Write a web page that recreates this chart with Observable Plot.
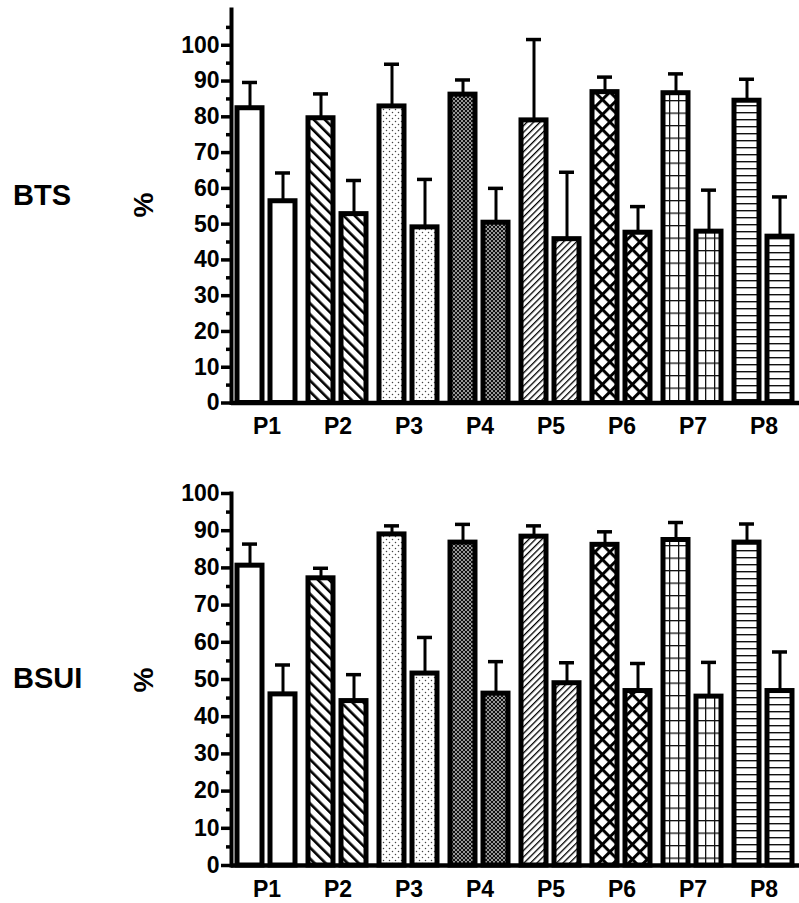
<!DOCTYPE html>
<html><head><meta charset="utf-8">
<script src="https://cdn.jsdelivr.net/npm/d3@7"></script>
<script src="https://cdn.jsdelivr.net/npm/@observablehq/plot@0.6"></script>
<style>
body{margin:0;background:#fff;}
#wrap{position:relative;width:799px;height:903px;overflow:hidden;font-family:"Liberation Sans",Arial,sans-serif;font-weight:bold;color:#000;}
.panel{position:absolute;left:0;}
.lab{position:absolute;font-size:29px;line-height:29px;white-space:nowrap;}
.pct{position:absolute;font-size:28px;line-height:28px;transform:translate(-50%,-50%) rotate(-90deg);white-space:nowrap;}
</style></head><body>
<svg width="0" height="0" style="position:absolute">
<defs>
<pattern id="p2" patternUnits="userSpaceOnUse" width="7.8" height="7.8" patternTransform="rotate(-45)"><rect width="7.8" height="7.8" fill="#fff"/><rect x="0" y="0" width="2.6" height="7.8" fill="#000"/></pattern>
<pattern id="p3" patternUnits="userSpaceOnUse" width="6" height="6"><rect width="6" height="6" fill="#fff"/><circle cx="1.5" cy="1.5" r="0.75" fill="#444"/><circle cx="4.5" cy="4.5" r="0.75" fill="#444"/></pattern>
<pattern id="p4" patternUnits="userSpaceOnUse" width="4" height="4"><rect width="4" height="4" fill="#111"/><rect x="0.25" y="0.25" width="1.5" height="1.5" fill="#fff"/><rect x="2.25" y="2.25" width="1.5" height="1.5" fill="#fff"/></pattern>
<pattern id="p5" patternUnits="userSpaceOnUse" width="4.6" height="4.6" patternTransform="rotate(45)"><rect width="4.6" height="4.6" fill="#fff"/><rect x="0" y="0" width="1.3" height="4.6" fill="#000"/></pattern>
<pattern id="p6" patternUnits="userSpaceOnUse" width="10.6" height="10.6" patternTransform="rotate(45)"><rect width="10.6" height="10.6" fill="#fff"/><rect x="0" y="0" width="3" height="10.6" fill="#000"/><rect x="0" y="0" width="10.6" height="3" fill="#000"/></pattern>
<pattern id="p7" patternUnits="userSpaceOnUse" width="9" height="12.5"><rect width="9" height="12.5" fill="#fff"/><rect x="0" y="0" width="1.3" height="12.5" fill="#111"/><rect x="0" y="0" width="9" height="1.3" fill="#111"/></pattern>
<pattern id="p8" patternUnits="userSpaceOnUse" width="7" height="7"><rect width="7" height="7" fill="#fff"/><rect x="0" y="0" width="7" height="1.4" fill="#111"/></pattern>
</defs>
</svg>
<div id="wrap"></div>
<script>
// ---- data ----
const groups = ["P1", "P2", "P3", "P4", "P5", "P6", "P7", "P8"];
const series = ["a", "b"];

const btsMeanA  = [82.4, 79.6, 82.9, 86.2, 79.0, 86.9, 86.6, 84.5];
const btsUpperA = [89.6, 86.4, 94.7, 90.3, 101.6, 91.1, 92.0, 90.5];
const btsMeanB  = [56.4, 52.8, 49.1, 50.4, 45.8, 47.6, 47.9, 46.5];
const btsUpperB = [64.3, 62.2, 62.5, 60.0, 64.5, 54.9, 59.5, 57.6];

const bsuiMeanA  = [80.6, 77.2, 89.0, 86.8, 88.4, 86.2, 87.5, 86.8];
const bsuiUpperA = [86.4, 79.9, 91.3, 91.7, 91.3, 89.7, 92.2, 91.8];
const bsuiMeanB  = [46.0, 44.2, 51.6, 46.2, 49.0, 46.9, 45.4, 46.9];
const bsuiUpperB = [53.9, 51.3, 61.3, 54.8, 54.5, 54.3, 54.6, 57.4];

const btsMajorTicks = [0, 10, 20, 30, 40, 50, 60, 70, 80, 90, 100];
const btsMinorTicks = [5, 15, 25, 35, 45, 55, 65, 75, 85, 95, 105];
const bsuiMajorTicks = [0, 10, 20, 30, 40, 50, 60, 70, 80, 90, 100];
const bsuiMinorTicks = [5, 15, 25, 35, 45, 55, 65, 75, 85, 95];

// ---- styles ----
const patternOf = {P1: "#fff", P2: "url(#p2)", P3: "url(#p3)", P4: "url(#p4)",
                   P5: "url(#p5)", P6: "url(#p6)", P7: "url(#p7)", P8: "url(#p8)"};

function rowsOf(meanA, upperA, meanB, upperB) {
  return groups.flatMap((g, i) => [
    {group: g, series: "a", mean: meanA[i], upper: upperA[i]},
    {group: g, series: "b", mean: meanB[i], upper: upperB[i]}
  ]);
}

function panel(rows, yMax, major, minor, height, marginTop, marginBottom) {
  return Plot.plot({
    width: 799, height, marginLeft: 231, marginRight: 0, marginTop, marginBottom,
    style: {fontFamily: "Liberation Sans, Arial, sans-serif", fontWeight: "bold", fontSize: "23px", color: "#000", background: "transparent", overflow: "visible"},
    fx: {domain: groups, padding: 0, label: null},
    x: {domain: series, paddingInner: 0.232, paddingOuter: 0.186, axis: null},
    y: {domain: [0, yMax]},
    color: {type: "identity"},
    marks: [
      Plot.ruleX(rows, {fx: "group", x: "series", y1: "mean", y2: "upper", stroke: "#000", strokeWidth: 3}),
      Plot.tickY(rows, {fx: "group", x: "series", y: "upper", stroke: "#000", strokeWidth: 3.5, insetLeft: 5, insetRight: 5}),
      Plot.barY(rows, {fx: "group", x: "series", y: "mean", fill: d => patternOf[d.group], stroke: "#000", strokeWidth: 5}),
      Plot.ruleY([0], {stroke: "#000", strokeWidth: 4.5}),
      Plot.frame({anchor: "left", facetAnchor: "left", stroke: "#000", strokeWidth: 4}),
      Plot.axisY({ticks: minor, tickSize: 5, tickFormat: () => "", strokeWidth: 3.5, label: null}),
      Plot.axisY({ticks: major, tickSize: 10, tickPadding: 2, strokeWidth: 3.5, fontSize: 23, label: null}),
      Plot.axisFx({anchor: "bottom", tickSize: 0, tickPadding: 15, fontSize: 23, label: null})
    ]
  });
}

const wrap = document.getElementById("wrap");

const topPanel = panel(rowsOf(btsMeanA, btsUpperA, btsMeanB, btsUpperB), 110, btsMajorTicks, btsMinorTicks, 445, 9, 42.5);
topPanel.classList.add("panel"); topPanel.style.top = "0px";
wrap.appendChild(topPanel);

const botPanel = panel(rowsOf(bsuiMeanA, bsuiUpperA, bsuiMeanB, bsuiUpperB), 100, bsuiMajorTicks, bsuiMinorTicks, 458, 48, 38);
botPanel.classList.add("panel"); botPanel.style.top = "445px";
wrap.appendChild(botPanel);

function addText(cls, text, left, topPx) {
  const d = document.createElement("div");
  d.className = cls; d.textContent = text;
  d.style.left = left + "px"; d.style.top = topPx + "px";
  wrap.appendChild(d);
}
addText("lab", "BTS", 13, 180.5);
addText("lab", "BSUI", 13, 664);
addText("pct", "%", 144, 205);
addText("pct", "%", 144, 680);
</script>
</body></html>
